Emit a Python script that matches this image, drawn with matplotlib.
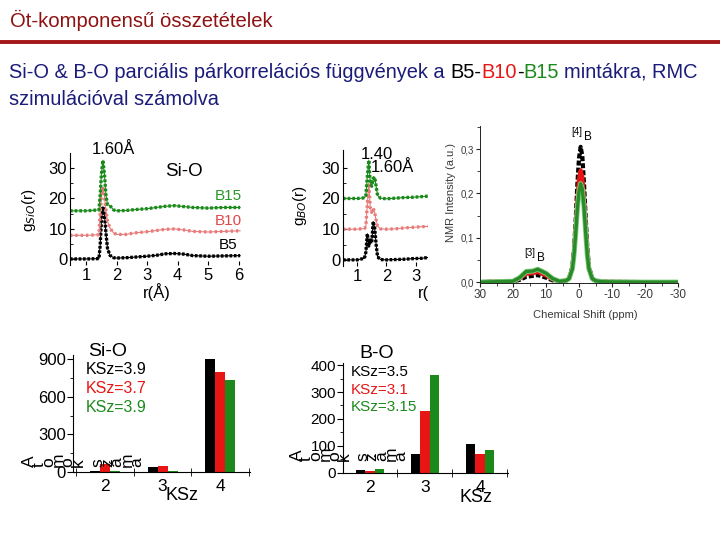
import matplotlib
matplotlib.use("Agg")
import matplotlib.pyplot as plt
from matplotlib.patches import Rectangle
from matplotlib.lines import Line2D
from matplotlib.ticker import FixedLocator

plt.rcParams["font.family"] = ["Liberation Sans", "DejaVu Sans"]

W, H = 720, 540

# ── data: Si-O partial pair correlation g(r), curves shifted by 0 / 8 / 16 ──
sio_r   = [0.47, 1.0, 1.42, 1.46, 1.50, 1.55, 1.60, 1.65, 1.70, 1.78, 1.9, 2.0,
           2.3, 2.6, 3.0, 3.3, 3.6, 3.9, 4.2, 4.5, 5.0, 5.5, 6.05]
sio_b5  = [0.0, 0.0, 0.1, 4.5, 12.5, 17.3, 14.5, 8.5, 3.5, 1.2, 0.4, 0.3,
           0.4, 0.6, 0.9, 1.2, 1.7, 1.8, 1.6, 1.1, 0.9, 1.0, 1.1]
sio_b10 = [7.8, 7.8, 8.0, 15.0, 21.0, 23.3, 20.5, 16.0, 12.5, 10.2, 8.6, 8.1,
           8.1, 8.6, 9.0, 9.4, 9.8, 9.9, 9.6, 9.1, 8.9, 9.1, 9.3]
sio_b15 = [15.9, 15.9, 16.2, 21.0, 28.0, 32.6, 28.0, 21.0, 18.0, 17.6, 16.2, 15.9,
           16.0, 16.3, 16.6, 17.0, 17.4, 17.6, 17.3, 17.0, 16.8, 17.0, 17.0]

# ── data: B-O partial pair correlation g(r), shifted by 0 / 10 / 20 ──
bo_r   = [0.52, 1.0, 1.25, 1.30, 1.35, 1.40, 1.45, 1.50, 1.55, 1.60, 1.65, 1.70,
          1.80, 2.0, 2.3, 2.6, 2.9, 3.2, 3.6]
bo_b5  = [0.0, 0.0, 0.5, 2.5, 8.5, 4.5, 6.5, 5.5, 12.5, 10.5, 5.0, 1.0,
          0.1, 0.0, 0.1, 0.2, 0.4, 0.5, 1.0]
bo_b10 = [10.0, 10.0, 10.2, 11.0, 18.0, 25.0, 17.0, 15.5, 16.8, 15.5, 13.0, 11.0,
          10.1, 10.0, 10.1, 10.4, 10.6, 10.8, 11.0]
bo_b15 = [20.0, 20.0, 20.2, 21.0, 27.0, 32.5, 25.0, 24.0, 26.5, 27.0, 24.0, 21.0,
          20.1, 19.9, 20.1, 20.3, 20.4, 20.6, 20.9]

# ── data: 11B NMR spectra ──
ppm       = [30, 20, 18, 16, 14, 12.5, 10, 8, 6, 4, 3, 2, 1.5, 1, 0.5, 0, -0.5,
             -1, -1.5, -2, -2.5, -3, -4, -5, -7, -10, -20, -30]
nmr_b5    = [0, 0.002, 0.005, 0.012, 0.014, 0.016, 0.010, 0.004, 0.002, 0.003, 0.008,
             0.035, 0.075, 0.14, 0.22, 0.28, 0.305, 0.285, 0.225, 0.15, 0.08, 0.035,
             0.008, 0.003, 0.001, 0.0005, 0, 0]
nmr_b10   = [0, 0.002, 0.008, 0.019, 0.020, 0.023, 0.015, 0.006, 0.002, 0.003, 0.008,
             0.032, 0.068, 0.12, 0.185, 0.232, 0.252, 0.237, 0.19, 0.13, 0.07, 0.032,
             0.008, 0.003, 0.001, 0.0005, 0, 0]
nmr_b15   = [0, 0.002, 0.010, 0.024, 0.025, 0.029, 0.020, 0.008, 0.002, 0.003, 0.008,
             0.030, 0.062, 0.11, 0.165, 0.205, 0.222, 0.21, 0.17, 0.115, 0.062, 0.030,
             0.008, 0.003, 0.001, 0.0005, 0, 0]

# ── data: coordination number histograms ──
ksz_cats  = [2, 3, 4]
sio_cnt_b5  = [4, 40, 900]
sio_cnt_b10 = [58, 48, 800]
sio_cnt_b15 = [2, 5, 738]
bo_cnt_b5   = [10, 70, 106]
bo_cnt_b10  = [6, 230, 70]
bo_cnt_b15  = [14, 363, 83]
sio_ksz_labels = ["KSz=3.9", "KSz=3.7", "KSz=3.9"]
bo_ksz_labels  = ["KSz=3.5", "KSz=3.1", "KSz=3.15"]

# ── palette ──
TITLE_RED = "#8e1212"
RULE_RED  = "#a31818"
NAVY      = "#1b1b7a"
BLACK     = "#000000"
RED       = "#e81515"
GREEN     = "#1b8a1b"
PINK      = "#e87a7a"
GRAY      = "#3a3a3a"

fig = plt.figure(figsize=(W / 100, H / 100), dpi=100, facecolor="white")


def ax_px(x0, y0, x1, y1, **kw):
    return fig.add_axes([x0 / W, 1 - y1 / H, (x1 - x0) / W, (y1 - y0) / H], **kw)


def T(x, y, s, **kw):
    kw.setdefault("ha", "center")
    kw.setdefault("va", "center")
    return fig.text(x / W, 1 - y / H, s, **kw)


# ── header ──
T(10, 20, "Öt-komponensű összetételek", color=TITLE_RED, fontsize=14.6, ha="left")
fig.add_artist(Line2D([0, 1], [1 - 42 / H, 1 - 42 / H], transform=fig.transFigure,
                      color=RULE_RED, lw=2.8))

renderer = fig.canvas.get_renderer()


def w_px(s, size):
    t = fig.text(0, 0, s, fontsize=size)
    w = t.get_window_extent(renderer).width
    t.remove()
    return w


SUB = 14.4
space = w_px("x x", SUB) - w_px("xx", SUB)
pieces = [("Si-O & B-O parciális párkorrelációs függvények a", NAVY, True),
          ("B5-", BLACK, False), ("B10", RED, False), ("-", BLACK, False),
          ("B15", GREEN, True), ("mintákra, RMC", NAVY, False)]
x = 9
for s, col, gap in pieces:
    t = T(x, 72, s, color=col, fontsize=SUB, ha="left")
    x += t.get_window_extent(renderer).width + (space if gap else 0)
T(9, 100, "szimulációval számolva", color=NAVY, fontsize=SUB, ha="left")


def gr_curve(ax, r, g, col, pattern):
    ax.plot(r, g, color=col, lw=0.8)
    ax.plot(r, g, color=col, lw=2.4, ls=pattern)


def style_gr(ax, xlim, ylim, xticks):
    ax.set_xlim(*xlim)
    ax.set_ylim(*ylim)
    for s in ["top", "right", "bottom"]:
        ax.spines[s].set_visible(False)
    ax.spines["left"].set_linewidth(0.8)
    ax.set_yticks([0, 10, 20, 30])
    ax.yaxis.set_minor_locator(FixedLocator([5, 15, 25]))
    ax.set_xticks(xticks)
    ax.tick_params(axis="both", which="major", direction="in", length=3,
                   labelsize=12, pad=2)
    ax.tick_params(axis="y", which="minor", direction="in", length=2)
    ax.patch.set_alpha(0)


# ── Si-O g(r) ──
ax1 = ax_px(70, 153, 241, 265)
gr_curve(ax1, sio_r, sio_b5, BLACK, (0, (0.8, 0.5)))
gr_curve(ax1, sio_r, sio_b10, PINK, (0, (0.7, 0.9)))
gr_curve(ax1, sio_r, sio_b15, GREEN, (0, (0.8, 0.6)))
style_gr(ax1, (0.47, 6.08), (-2, 35), [1, 2, 3, 4, 5, 6])
T(113, 149, "1.60Å", fontsize=12)
T(184, 172, "Si-O", fontsize=13.5)
T(228, 196, "B15", color="#2a962a", fontsize=11)
T(228, 221, "B10", color="#e04848", fontsize=11)
T(228, 245, "B5", color=BLACK, fontsize=11)
T(157, 292, "r(Å)", fontsize=12)
T(29, 210, "g$_{SiO}$(r)", fontsize=11, rotation=90)

# ── B-O g(r) ──
ax2 = ax_px(343, 150, 440, 266)
gr_curve(ax2, bo_r, bo_b5, BLACK, (0, (0.8, 0.5)))
gr_curve(ax2, bo_r, bo_b10, PINK, (0, (0.7, 0.9)))
gr_curve(ax2, bo_r, bo_b15, GREEN, (0, (0.8, 0.6)))
style_gr(ax2, (0.52, 3.83), (-2, 35.8), [1, 2, 3])
T(377, 155, "1.40", fontsize=12)
T(392, 168, "1.60Å", fontsize=12)
T(432, 292, "r(Å)", fontsize=12)
T(300, 205, "g$_{BO}$(r)", fontsize=11, rotation=90)

# white background of the pasted NMR figure
fig.add_artist(Rectangle((428 / W, 1 - 335 / H), (W - 428) / W, 217 / H,
                         transform=fig.transFigure, fc="white", ec="none", zorder=4))

# ── NMR ──
ax3 = ax_px(480, 126, 678, 283, zorder=5)
ax3.plot(ppm, nmr_b5, color=BLACK, lw=3.0, ls=(0, (1.2, 0.5)))
ax3.plot(ppm, nmr_b10, color=RED, lw=3.0)
ax3.plot(ppm, nmr_b15, color="#7ccf7c", lw=3.6)
ax3.plot(ppm, nmr_b15, color="#2a8a2a", lw=2.4)
ax3.set_xlim(30, -30)
ax3.set_ylim(-0.002, 0.352)
for s in ["top", "right"]:
    ax3.spines[s].set_visible(False)
for s in ["left", "bottom"]:
    ax3.spines[s].set_linewidth(0.7)
    ax3.spines[s].set_color("#222222")
ax3.set_xticks([30, 20, 10, 0, -10, -20, -30])
ax3.set_xticklabels(["30", "20", "10", "0", "-10", "-20", "-30"])
ax3.xaxis.set_minor_locator(FixedLocator([25, 15, 5, -5, -15, -25]))
ax3.set_yticks([0.0, 0.1, 0.2, 0.3])
ax3.set_yticklabels(["0,0", "0,1", "0,2", "0,3"])
ax3.yaxis.set_minor_locator(FixedLocator([0.05, 0.15, 0.25, 0.35]))
ax3.tick_params(axis="x", which="major", direction="out", length=3, labelsize=8.5,
                labelcolor=GRAY, pad=1.5, color="#222222")
ax3.tick_params(axis="y", which="major", direction="out", length=3, labelsize=7,
                labelcolor=GRAY, pad=1.5, color="#222222")
ax3.tick_params(which="minor", direction="out", length=2, color="#222222")
T(585, 315, "Chemical Shift (ppm)", fontsize=8, color=GRAY, zorder=6)
T(451, 193, "NMR Intensity (a.u.)", fontsize=8, color=GRAY, rotation=90, zorder=6)
T(577, 132, "[4]", fontsize=7, color=BLACK, zorder=6)
T(588, 137, "B", fontsize=8.5, color=BLACK, zorder=6)
T(530, 253, "[3]", fontsize=7, color=BLACK, zorder=6)
T(541, 258, "B", fontsize=8.5, color=BLACK, zorder=6)


# ── coordination histograms ──
def bar_panel(ax, b5, b10, b15, xlim, ylim, yticks, yminor, width, ysize):
    xs = ksz_cats
    ax.bar([v - width for v in xs], b5, width, color=BLACK)
    ax.bar(xs, b10, width, color=RED)
    ax.bar([v + width for v in xs], b15, width, color=GREEN)
    ax.set_xlim(*xlim)
    ax.set_ylim(*ylim)
    for s in ["top", "right"]:
        ax.spines[s].set_visible(False)
    for s in ["left", "bottom"]:
        ax.spines[s].set_linewidth(0.8)
    ax.set_xticks(xs)
    ax.xaxis.set_minor_locator(FixedLocator([1.5, 2.5, 3.5, 4.5]))
    ax.set_yticks(yticks)
    ax.yaxis.set_minor_locator(FixedLocator(yminor))
    ax.tick_params(axis="x", which="major", length=0, labelsize=12.5, pad=5)
    ax.tick_params(axis="x", which="minor", direction="inout", length=6)
    ax.tick_params(axis="y", which="major", direction="out", length=4,
                   labelsize=ysize, pad=1)
    ax.tick_params(axis="y", which="minor", direction="out", length=2)
    ax.patch.set_alpha(0)


ax4 = ax_px(73, 355, 250, 471.7)
bar_panel(ax4, sio_cnt_b5, sio_cnt_b10, sio_cnt_b15, (1.443, 4.522), (0, 935),
          [0, 300, 600, 900], [150, 450, 750], 0.174, 12)
T(108, 351, "Si-O", fontsize=14)
for i, (lbl, col) in enumerate(zip(sio_ksz_labels, [BLACK, RED, GREEN])):
    T(86, 370 + i * 18.5, lbl, color=col, fontsize=11.5, ha="left")
T(182, 495, "KSz", fontsize=13)

ax5 = ax_px(343, 363, 508, 472.7)
bar_panel(ax5, bo_cnt_b5, bo_cnt_b10, bo_cnt_b15, (1.51, 4.51), (0, 408),
          [0, 100, 200, 300, 400], [50, 150, 250, 350], 0.167, 11)
T(377, 353, "B-O", fontsize=14)
for i, (lbl, col) in enumerate(zip(bo_ksz_labels, [BLACK, RED, GREEN])):
    T(351, 372 + i * 17.5, lbl, color=col, fontsize=11, ha="left")
T(476, 498, "KSz", fontsize=13)

# y labels that were rendered as rotated glyphs in the source slide
for x0, y0, step in [(29, 467, 9.8), (297, 461, 9.4)]:
    for i, ch in enumerate("Atomok száma"):
        if ch != " ":
            T(x0 + i * step, y0, ch, fontsize=12.5, rotation=90,
              rotation_mode="anchor", ha="left", va="center", zorder=6)

fig.savefig("out.png", dpi=100, facecolor="white")
